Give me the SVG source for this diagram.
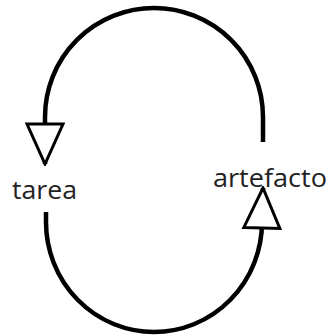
<svg xmlns="http://www.w3.org/2000/svg" width="330" height="335" viewBox="0 0 330 335">
  <style>
    .conn { fill: none; stroke: #000; stroke-width: 4.5; }
    .lbl { font-family: "Open Sans", "Noto Sans", sans-serif; font-size: 26px; fill: #222; }
  </style>
  <defs>
    <marker id="hollow" markerUnits="userSpaceOnUse" markerWidth="44" markerHeight="44" viewBox="-2 -20 44 40" refX="40" refY="0" orient="auto">
      <polygon points="0,-18 0,18 40,0" fill="#fff" stroke="#000" stroke-width="3" stroke-linejoin="miter"/>
    </marker>
  </defs>
  <rect width="330" height="335" fill="#fff"/>
  <g id="connectors">
    <path class="conn" d="M 263 142 L 263 117 A 109 109 0 0 0 45 117 L 45 164" marker-end="url(#hollow)"/>
    <path class="conn" d="M 46 212 L 46 222 A 108 110 0 0 0 262 222 L 263 188" marker-end="url(#hollow)"/>
  </g>
  <g id="tarea">
    <text class="lbl" x="12" y="199" textLength="65" lengthAdjust="spacingAndGlyphs">tarea</text>
  </g>
  <g id="artefacto">
    <text class="lbl" x="213" y="187" textLength="114" lengthAdjust="spacingAndGlyphs">artefacto</text>
  </g>
</svg>
